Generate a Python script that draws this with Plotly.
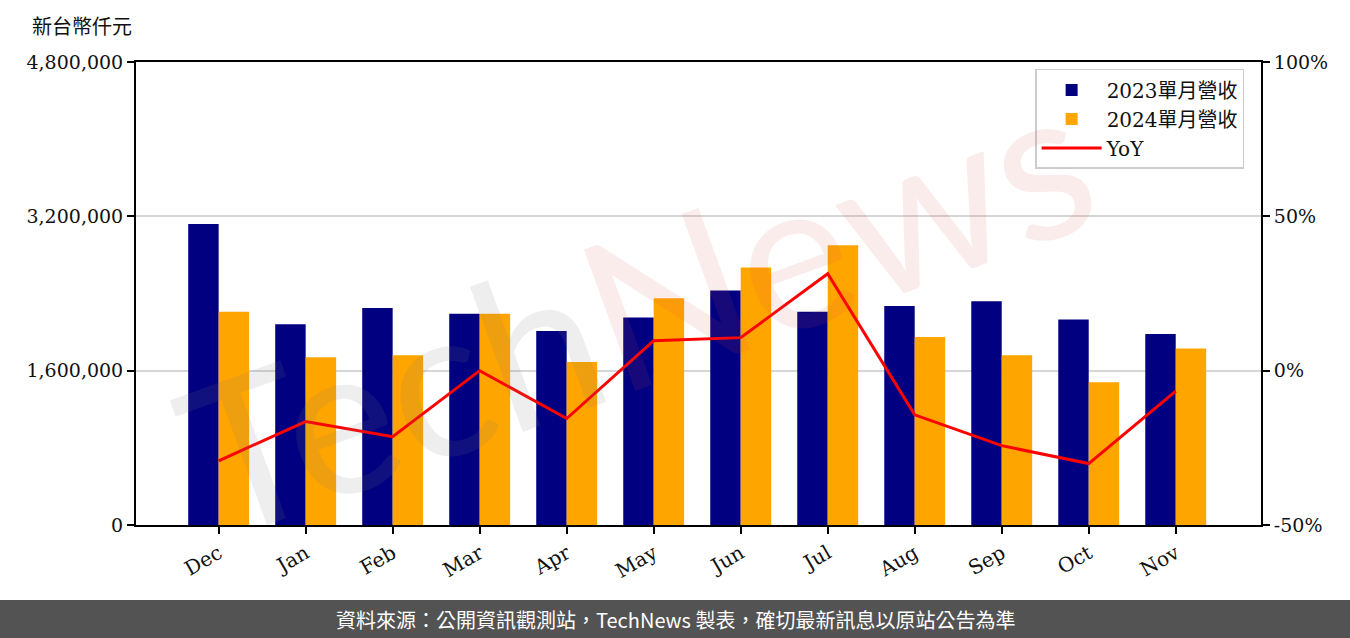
import plotly.graph_objects as go

months = ['Dec', 'Jan', 'Feb', 'Mar', 'Apr', 'May', 'Jun', 'Jul', 'Aug', 'Sep', 'Oct', 'Nov']
revenue_2023 = [3120000, 2080000, 2250000, 2190000, 2010000, 2150000,
                2430000, 2210000, 2270000, 2320000, 2130000, 1980000]
revenue_2024 = [2210000, 1740000, 1760000, 2190000, 1690000, 2350000,
                2670000, 2900000, 1950000, 1760000, 1480000, 1830000]
yoy = [-29.2, -16.5, -21.4, 0.0, -15.5, 9.7, 10.7, 31.4, -14.3, -24.3, -30.1, -6.6]

left_ticks = [0, 1600000, 3200000, 4800000]
right_ticks = [-50, 0, 50, 100]
right_labels = ['-50%', '0%', '50%', '100%']

SERIF = "DejaVu Serif, Noto Sans CJK TC, serif"

fig = go.Figure()

fig.add_trace(go.Bar(x=months, y=revenue_2023, name='2023單月營收',
                     marker=dict(color='#000080', line=dict(width=0))))
fig.add_trace(go.Bar(x=months, y=revenue_2024, name='2024單月營收',
                     marker=dict(color='#FFA500', line=dict(width=0))))
fig.add_trace(go.Scatter(x=months, y=yoy, name='YoY', mode='lines',
                         line=dict(color='#FF0000', width=3), yaxis='y2'))

# plot area: x 136..1261, y 62..525
W, H = 1350, 638
L, R, T, B = 136, 89, 62, 113
pw, ph = W - L - R, H - T - B


def px_x(x):
    return (x - L) / pw


def px_y(y):
    return (H - B - y) / ph


fig.update_layout(
    width=W, height=H,
    margin=dict(l=L, r=R, t=T, b=B, pad=0),
    paper_bgcolor='white', plot_bgcolor='white',
    barmode='group', bargap=0.3, bargroupgap=0,
    font=dict(family=SERIF, size=19, color='#111111'),
    xaxis=dict(
        range=[-0.95, 11.98], tickangle=-30,
        showline=True, linecolor='black', linewidth=2, mirror=True,
        ticks='outside', ticklen=7, tickwidth=2, tickcolor='black',
        showgrid=False, tickfont=dict(size=20),
    ),
    yaxis=dict(
        range=[0, 4800000], tickvals=left_ticks, tickformat=',d',
        showline=True, linecolor='black', linewidth=2,
        ticks='outside', ticklen=7, tickwidth=2, tickcolor='black',
        showgrid=True, gridcolor='#d6d6d6', gridwidth=1.5, zeroline=False,
        tickfont=dict(size=19),
    ),
    yaxis2=dict(
        range=[-50, 100], tickmode='array', tickvals=right_ticks, ticktext=right_labels,
        overlaying='y', side='right',
        showline=True, linecolor='black', linewidth=2,
        ticks='outside', ticklen=7, tickwidth=2, tickcolor='black',
        showgrid=False, zeroline=False, tickfont=dict(size=19),
    ),
    legend=dict(
        x=0.985, xanchor='right', y=0.985, yanchor='top',
        bgcolor='rgba(255,255,255,0.85)', bordercolor='#cccccc', borderwidth=1.5,
        font=dict(size=20), itemwidth=60,
    ),
    shapes=[dict(
        type='rect', xref='paper', yref='paper', layer='above',
        x0=px_x(0), x1=px_x(W), y0=px_y(600), y1=px_y(H),
        fillcolor='#535353', line=dict(width=0),
    )],
    annotations=[
        dict(text='新台幣仟元', xref='paper', yref='paper',
             x=px_x(30), y=px_y(27), xanchor='left', yanchor='middle',
             showarrow=False, font=dict(size=20, color='#111111')),
        dict(text='資料來源：公開資訊觀測站，TechNews 製表，確切最新訊息以原站公告為準',
             xref='paper', yref='paper', x=px_x(675), y=px_y(619),
             xanchor='center', yanchor='middle', showarrow=False,
             font=dict(family='Noto Sans CJK TC', size=20, color='white')),
        # faint watermark
        dict(text="<span style='color:rgba(120,120,120,0.13)'>Tech</span>"
                  "<span style='color:rgba(215,80,80,0.11)'>News</span>",
             xref='paper', yref='paper', x=px_x(635), y=px_y(305),
             xanchor='center', yanchor='middle', showarrow=False, textangle=-20,
             font=dict(family='Lato', size=210)),
    ],
)

fig.write_html("out.html", config={'displayModeBar': False},
               post_script="document.body.style.margin='0';")
